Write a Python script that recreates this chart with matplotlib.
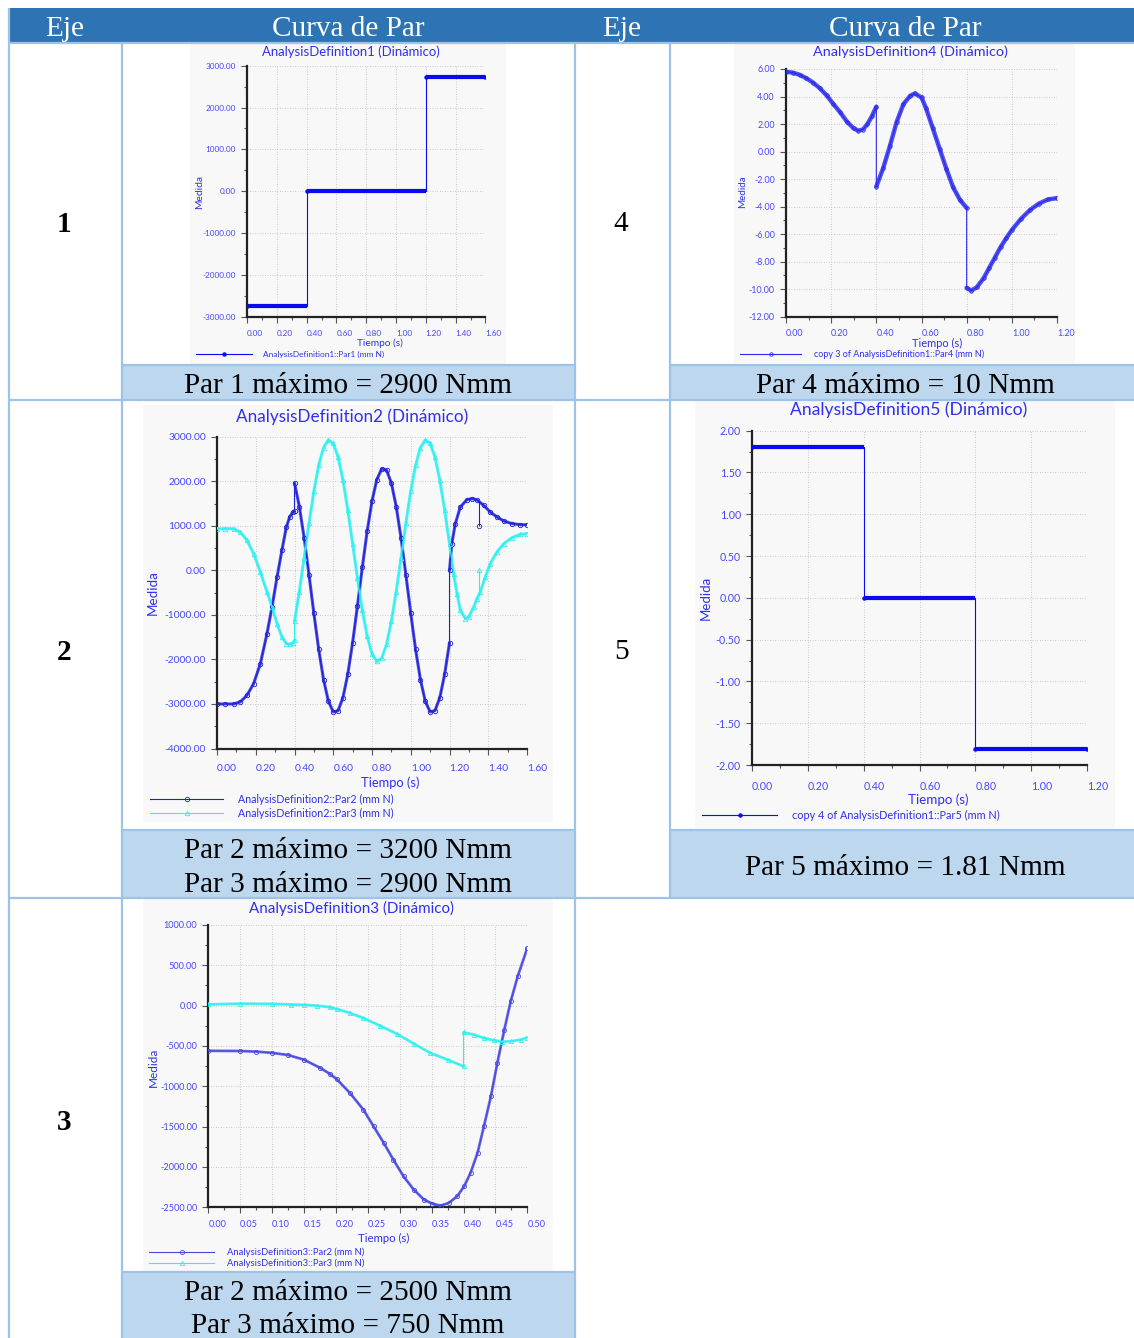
import matplotlib
matplotlib.use('Agg')
import matplotlib.pyplot as plt
from matplotlib.patches import Rectangle
from matplotlib.ticker import MultipleLocator, FormatStrFormatter
from matplotlib.font_manager import FontProperties

W, H = 1134, 1338

# %% table text
headers = ['Eje', 'Curva de Par', 'Eje', 'Curva de Par']
eje_left = ['1', '2', '3']
eje_right = ['4', '5']
cap_par1 = 'Par 1 máximo = 2900 Nmm'
cap_par4 = 'Par 4 máximo = 10 Nmm'
cap_ad2 = ['Par 2 máximo = 3200 Nmm', 'Par 3 máximo = 2900 Nmm']
cap_par5 = 'Par 5 máximo = 1.81 Nmm'
cap_ad3 = ['Par 2 máximo = 2500 Nmm', 'Par 3 máximo = 750 Nmm']

# %% AnalysisDefinition1 (step)
ad1_edges = [0.0, 0.4, 1.2, 1.6]
ad1_par1 = [-2750, 0, 2720]

# %% AnalysisDefinition5 (step)
ad5_edges = [0.0, 0.4, 0.8, 1.2]
ad5_par5 = [1.81, 0.0, -1.81]

# %% AnalysisDefinition4
ad4_t1 = [0.0, 0.03, 0.06, 0.09, 0.12, 0.15, 0.18, 0.21, 0.24, 0.27, 0.30, 0.32, 0.34, 0.36, 0.38, 0.40]
ad4_v1 = [5.80, 5.74, 5.58, 5.33, 5.01, 4.60, 4.08, 3.45, 2.85, 2.17, 1.68, 1.52, 1.60, 1.98, 2.55, 3.26]
ad4_t2 = [0.40, 0.43, 0.46, 0.49, 0.52, 0.55, 0.57, 0.60, 0.62, 0.65, 0.68, 0.71, 0.74, 0.77, 0.80]
ad4_v2 = [-2.54, -1.22, 0.40, 2.15, 3.45, 4.05, 4.22, 3.93, 3.15, 1.70, 0.22, -1.25, -2.60, -3.50, -4.10]
ad4_t3 = [0.80, 0.82, 0.845, 0.875, 0.90, 0.925, 0.95, 0.975, 1.00, 1.04, 1.08, 1.12, 1.16, 1.20]
ad4_v3 = [-9.90, -10.10, -9.86, -9.20, -8.45, -7.70, -6.95, -6.30, -5.70, -4.90, -4.25, -3.78, -3.48, -3.38]

# %% AnalysisDefinition2
ad2_t1 = [0.0, 0.043, 0.086, 0.12, 0.155, 0.189, 0.224, 0.258, 0.284, 0.31, 0.335, 0.358, 0.375, 0.392, 0.40]
ad2_par2_1 = [-3000, -3000, -3000, -2955, -2805, -2543, -2094, -1421, -823, -150, 449, 972, 1197, 1309, 1324]
ad2_par3_1 = [935, 935, 935, 860, 673, 374, -37, -486, -823, -1197, -1496, -1646, -1661, -1631, -1571]
ad2_t2 = [0.400, 0.425, 0.450, 0.475, 0.500, 0.525, 0.550, 0.575, 0.600, 0.625, 0.650,
          0.675, 0.700, 0.725, 0.750, 0.775, 0.800, 0.825, 0.850, 0.875, 0.900, 0.925,
          0.950, 0.975, 1.000, 1.025, 1.050, 1.075, 1.100, 1.125, 1.150, 1.175, 1.200]
ad2_par2_2 = [1962, 1431, 722, -106, -964, -1776, -2455, -2939, -3178, -3151, -2859,
              -2334, -1622, -794, 64, 876, 1555, 2039, 2278, 2251, 1959, 1431,
              722, -106, -964, -1776, -2455, -2939, -3178, -3151, -2859, -2334, -1627]
ad2_par3_2 = [-1146, -476, 283, 1060, 1775, 2360, 2756, 2925, 2853, 2544, 2026,
              1356, 597, -180, -895, -1480, -1876, -2045, -1973, -1664, -1146, -476,
              283, 1060, 1775, 2360, 2756, 2925, 2853, 2544, 2026, 1356, 597]
ad2_par2_t3 = [1.200, 1.212, 1.230, 1.256, 1.290, 1.316, 1.342, 1.376, 1.410, 1.445, 1.480, 1.523, 1.566, 1.600]
ad2_par2_3 = [0, 600, 1048, 1422, 1587, 1610, 1580, 1460, 1310, 1198, 1108, 1048, 1025, 1022]
ad2_par3_t3 = [1.200, 1.221, 1.239, 1.256, 1.282, 1.299, 1.325, 1.342, 1.359, 1.385, 1.410, 1.445, 1.480, 1.523, 1.566, 1.600]
ad2_par3_3 = [597, -75, -524, -898, -1085, -1048, -823, -636, -487, -150, 150, 412, 599, 734, 808, 823]
ad2_par2_spike = [1.35, 1560, 1000]   # time, curve level, spike level
ad2_par3_spike = [1.35, -560, 0]

# %% AnalysisDefinition3
ad3_par2_t = [0.0, 0.05, 0.075, 0.10, 0.125, 0.15, 0.175, 0.190, 0.201, 0.222, 0.243, 0.259, 0.275,
              0.290, 0.306, 0.322, 0.338, 0.351, 0.364, 0.377, 0.390, 0.401, 0.411, 0.422, 0.432,
              0.443, 0.453, 0.464, 0.474, 0.485, 0.50]
ad3_par2 = [-560, -562, -570, -585, -612, -670, -770, -843, -909, -1083, -1289, -1496, -1702,
            -1909, -2116, -2281, -2405, -2455, -2479, -2446, -2364, -2240, -2074, -1826, -1496,
            -1124, -711, -298, 54, 364, 715]
ad3_par3_t1 = [0.0, 0.05, 0.10, 0.13, 0.15, 0.17, 0.190, 0.201, 0.222, 0.243, 0.269, 0.296, 0.322, 0.348, 0.375, 0.40]
ad3_par3_1 = [15, 25, 22, 14, 10, 0, -17, -41, -91, -153, -248, -351, -471, -587, -669, -752]
ad3_par3_t2 = [0.40, 0.416, 0.432, 0.448, 0.461, 0.474, 0.490, 0.50]
ad3_par3_2 = [-331, -359, -401, -430, -446, -442, -421, -395]

# %% style
SANS = 'Lato'
SERIF = 'Liberation Serif'
HEAD = '#2E74B5'
CAPT = '#BDD7EE'
BORDER = '#9DC3E6'
CHART_BG = '#F8F8F8'
TITLE_BLUE = '#2F2FF0'
TICK_BLUE = '#4646FF'
BLUE = '#0A0AF0'
DARK_BLUE = '#2020D8'
MID_BLUE = '#4848E0'
CYAN = '#2EF0F0'

plt.rcParams['font.family'] = [SANS, 'DejaVu Sans']

fig = plt.figure(figsize=(W / 100, H / 100), dpi=100)
renderer = fig.canvas.get_renderer()
bg = fig.add_axes([0, 0, 1, 1])
bg.set_xlim(0, W)
bg.set_ylim(H, 0)
bg.axis('off')


def fit(s, target, family=SANS, weight='normal'):
    fp = FontProperties(family=family, size=10, weight=weight)
    w, _, _ = renderer.get_text_width_height_descent(s, fp, ismath=False)
    return 10.0 * target / w


def box(x0, y0, x1, y1, color, z=1):
    bg.add_patch(Rectangle((x0, y0), x1 - x0, y1 - y0, facecolor=color, edgecolor='none', zorder=z))


# %% table
box(8, 8, W, 43, HEAD)
for x0, y0, x1, y1 in [(122, 365, 575, 400), (670, 365, W, 400), (122, 830, 575, 898),
                       (670, 830, W, 898), (122, 1272, 575, H)]:
    box(x0, y0, x1, y1, CAPT)

lw_b = 1.6
bg.vlines([8.5], 8, H, color=BORDER, lw=lw_b, zorder=3)
bg.vlines([122, 575], 43, H, color=BORDER, lw=lw_b, zorder=3)
bg.vlines([670], 43, 898, color=BORDER, lw=lw_b, zorder=3)
bg.hlines([43, 400, 898], 8, W, color=BORDER, lw=lw_b, zorder=3)
bg.hlines([365, 830, 1272], 122, 575, color=BORDER, lw=lw_b, zorder=3)
bg.hlines([365, 830], 670, W, color=BORDER, lw=lw_b, zorder=3)

fs_head = fit('Curva de Par', 153, SERIF)
for x, s in zip([65, 348, 622, 905], headers):
    bg.text(x, 29, s, ha='center', va='center', color='white', fontsize=fs_head, family=SERIF, zorder=4)

fs_cap = fit(cap_par1, 328, SERIF)
for y, s in zip([224, 652, 1122], eje_left):
    bg.text(64, y, s, ha='center', va='center', fontsize=fs_cap, family=SERIF, weight='bold', zorder=4)
for y, s in zip([224, 652], eje_right):
    bg.text(621, y, s, ha='center', va='center', fontsize=fs_cap, family=SERIF, zorder=4)

cap_items = [(348, 386, cap_par1), (905, 386, cap_par4), (348, 851, cap_ad2[0]), (348, 885, cap_ad2[1]),
             (905, 868, cap_par5), (348, 1293, cap_ad3[0]), (348, 1326, cap_ad3[1])]
for x, y, s in cap_items:
    bg.text(x, y, s, ha='center', va='center', fontsize=fs_cap, family=SERIF, zorder=4)


# %% charts
def chart(ax_box, bg_box, xlim, ylim, xstep, ystep, yminor, tick_ref, tick_px, xpad,
          title, title_xy, title_px, med_xy, med_px, tie_xy, tie_px):
    box(*bg_box, CHART_BG, z=2)
    l, t, r, b = ax_box
    ax = fig.add_axes([l / W, 1 - b / H, (r - l) / W, (b - t) / H])
    ax.patch.set_alpha(0)
    ax.set_xlim(xlim)
    ax.set_ylim(ylim)
    ax.xaxis.set_major_locator(MultipleLocator(xstep))
    ax.xaxis.set_minor_locator(MultipleLocator(xstep / 2))
    ax.yaxis.set_major_locator(MultipleLocator(ystep))
    ax.yaxis.set_minor_locator(MultipleLocator(yminor))
    ax.xaxis.set_major_formatter(FormatStrFormatter('%.2f'))
    ax.yaxis.set_major_formatter(FormatStrFormatter('%.2f'))
    fs = fit(tick_ref, tick_px)
    ax.tick_params(which='both', direction='out', color='#555555', width=0.8,
                   labelsize=fs, labelcolor=TICK_BLUE)
    ax.tick_params(axis='x', pad=xpad)
    ax.tick_params(axis='y', pad=4)
    ax.tick_params(which='major', length=4)
    ax.tick_params(which='minor', length=2.5)
    plt.setp(ax.get_xticklabels(), ha='left')
    ax.grid(which='major', ls=(0, (1, 2)), lw=0.6, color='#BDBDBD')
    for side in ['top', 'right']:
        ax.spines[side].set_visible(False)
    for side in ['left', 'bottom']:
        ax.spines[side].set_linewidth(1.6)
        ax.spines[side].set_color('#222222')
    bg.text(*title_xy, title, ha='center', va='center', color=TITLE_BLUE, fontsize=fit(title, title_px), zorder=4)
    bg.text(*med_xy, 'Medida', ha='center', va='center', rotation=90, color=TITLE_BLUE,
            fontsize=fit('Medida', med_px), zorder=4)
    bg.text(*tie_xy, 'Tiempo (s)', ha='center', va='center', color=TITLE_BLUE,
            fontsize=fit('Tiempo (s)', tie_px), zorder=4)
    return ax


def series(ax, segments, color, marker, label, lw=2.2, ms=3.2, spike=None):
    all_t, all_v = [], []
    for t, v in segments:
        all_t += list(t)
        all_v += list(v)
        ax.plot(t, v, color=color, lw=lw, alpha=0.8, solid_capstyle='round', zorder=3)
    ax.plot(all_t, all_v, color=color, lw=0.8, marker=marker, ms=ms, mfc='none', mew=0.6,
            label=label, zorder=4)
    if spike is not None:
        ax.vlines(spike[0], spike[1], spike[2], color=color, lw=0.8, zorder=4)
        ax.plot([spike[0]], [spike[2]], marker=marker, color=color, ms=ms, mfc='none', mew=0.6, zorder=4)


def step_series(ax, edges, levels, color, label, lw=3.0):
    ax.step(edges, list(levels) + [levels[-1]], where='post', color=color, lw=0.8,
            marker='o', ms=2.2, label=label, zorder=4)
    ax.hlines(levels, edges[:-1], edges[1:], color=color, lw=lw, zorder=3)


def legend_at(ax, x, y, text_ref, text_px, handle_px, pad_px, spacing=0.3):
    fs = fit(text_ref, text_px)
    fpx = fs * 100 / 72
    ax.legend(loc='center left', bbox_to_anchor=(x / W, 1 - y / H), bbox_transform=fig.transFigure,
              frameon=False, prop={'family': SANS, 'size': fs}, labelcolor=TITLE_BLUE,
              handlelength=handle_px / fpx, handletextpad=pad_px / fpx, borderpad=0,
              borderaxespad=0, labelspacing=spacing, numpoints=1)


# chart 1
ax1 = chart((247, 65.7, 485.4, 316.7), (190, 44, 506, 365), (0, 1.6), (-3000, 3000), 0.2, 1000, 500,
            '3000.00', 30, 5.5, 'AnalysisDefinition1 (Dinámico)', (351, 51.5), 178,
            (200, 192), 34, (380, 343), 46)
step_series(ax1, ad1_edges, ad1_par1, BLUE, 'AnalysisDefinition1::Par1 (mm N)')
legend_at(ax1, 196, 354, 'AnalysisDefinition1::Par1 (mm N)', 120, 56, 11)

# chart 4
ax4 = chart((786, 69, 1057, 316.7), (734, 44, 1075, 363), (0, 1.2), (-12, 6), 0.2, 2, 1,
            '-12.00', 26, 5.0, 'AnalysisDefinition4 (Dinámico)', (910, 52), 195,
            (743, 192), 33, (937, 343), 50)
series(ax4, [(ad4_t1, ad4_v1), (ad4_t2, ad4_v2), (ad4_t3, ad4_v3)], '#2A2AEC', 'o',
       'copy 3 of AnalysisDefinition1::Par4 (mm N)', lw=3.2, ms=2.5)
legend_at(ax4, 740, 354, 'copy 3 of AnalysisDefinition1::Par4 (mm N)', 170, 61, 13)

# chart 2
ax2 = chart((217, 436.7, 527, 748.5), (143, 405, 553, 822), (0, 1.6), (-4000, 3000), 0.2, 1000, 500,
            '3000.00', 38, 7.5, 'AnalysisDefinition2 (Dinámico)', (352, 417), 232,
            (153, 593), 45, (390, 783), 59)
series(ax2, [(ad2_t1, ad2_par2_1), (ad2_t2, ad2_par2_2), (ad2_par2_t3, ad2_par2_3)], DARK_BLUE, 'o',
       'AnalysisDefinition2::Par2 (mm N)', spike=ad2_par2_spike)
series(ax2, [(ad2_t1, ad2_par3_1), (ad2_t2 + ad2_par3_t3[1:], ad2_par3_2 + ad2_par3_3[1:])], CYAN, '^',
       'AnalysisDefinition2::Par3 (mm N)', spike=ad2_par3_spike)
legend_at(ax2, 150, 806.5, 'AnalysisDefinition2::Par2 (mm N)', 155, 73, 15, spacing=0.25)

# chart 5
ax5 = chart((752, 430.7, 1087, 765), (695, 400, 1115, 828), (0, 1.2), (-2, 2), 0.2, 0.5, 0.25,
            '1.50', 21, 7.5, 'AnalysisDefinition5 (Dinámico)', (909, 410), 238,
            (706, 598), 44, (938, 800), 61)
step_series(ax5, ad5_edges, ad5_par5, BLUE, 'copy 4 of AnalysisDefinition1::Par5 (mm N)')
legend_at(ax5, 702, 815, 'copy 4 of AnalysisDefinition1::Par5 (mm N)', 206, 75, 15)

# chart 3
ax3 = chart((208.3, 925, 527.3, 1207.3), (143, 898, 553, 1272), (0, 0.5), (-2500, 1000), 0.05, 500, 250,
            '1000.00', 34, 5.5, 'AnalysisDefinition3 (Dinámico)', (351, 908), 205,
            (153, 1067), 39, (384, 1238), 52)
series(ax3, [(ad3_par2_t, ad3_par2)], MID_BLUE, 'o', 'AnalysisDefinition3::Par2 (mm N)', lw=2.0, ms=3.0)
series(ax3, [(ad3_par3_t1, ad3_par3_1), (ad3_par3_t2, ad3_par3_2)], CYAN, '^',
       'AnalysisDefinition3::Par3 (mm N)', lw=2.0, ms=3.0)
legend_at(ax3, 149, 1258, 'AnalysisDefinition3::Par2 (mm N)', 137, 65, 13, spacing=0.2)

fig.savefig('out.png', dpi=100)
